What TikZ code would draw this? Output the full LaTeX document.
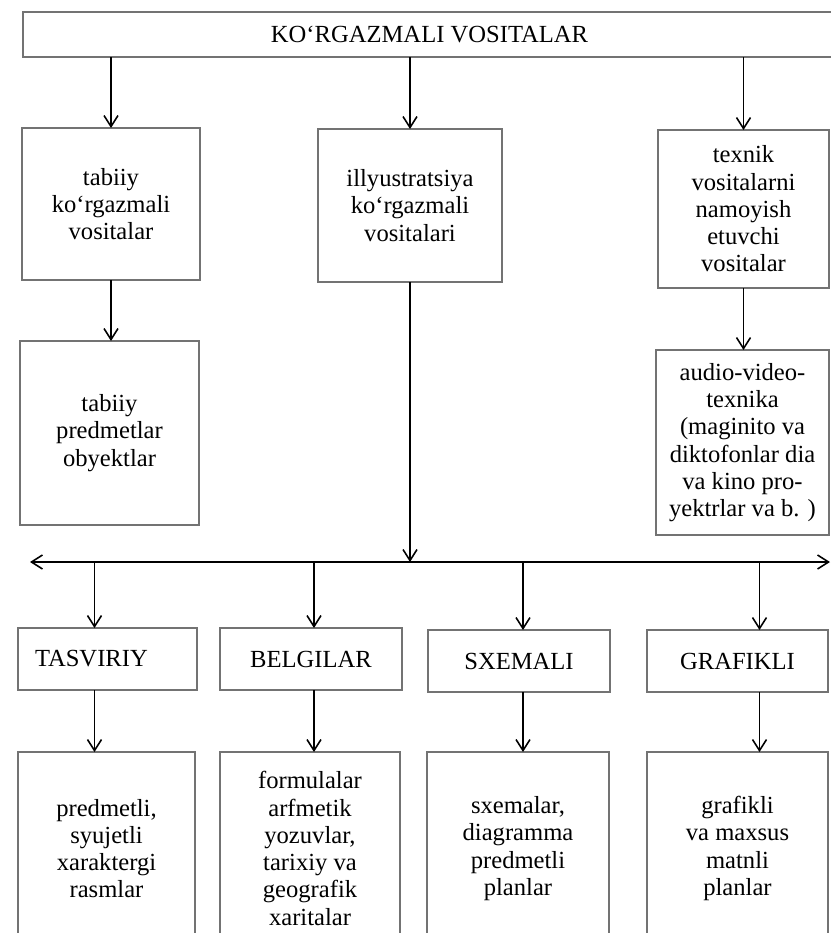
\documentclass[tikz,border=0pt]{standalone}
\usepackage{fontspec}
\setmainfont{Liberation Serif}
\usetikzlibrary{arrows.meta}

\begin{document}
\begin{tikzpicture}[x=0.02cm, y=-0.02cm,
    vbox/.style={draw=black!55, line width=0.7pt, inner sep=2pt, outer sep=0pt,
      align=center, font=\fontsize{14}{15.5}\selectfont},
    link/.style={->, line width=0.9pt},
    >={Straight Barb[length=2.2mm, width=2.8mm]}]
    \useasboundingbox (0,0) rectangle (831,933);
    % top
    \node[vbox, minimum width=813*0.02cm, minimum height=45*0.02cm] (top) at (429.5,34.5) {KO‘RGAZMALI VOSITALAR};
    % second level
    \node[vbox, minimum width=178*0.02cm, minimum height=152*0.02cm] (tab) at (111,204) {tabiiy\\ko‘rgazmali\\vositalar};
    \node[vbox, minimum width=184*0.02cm, minimum height=153*0.02cm] (ill) at (410,205.5) {illyustratsiya\\ko‘rgazmali\\vositalari};
    \node[vbox, minimum width=171*0.02cm, minimum height=158*0.02cm] (tex) at (743.5,209) {texnik\\vositalarni\\namoyish\\etuvchi\\vositalar};
    \node[vbox, minimum width=179*0.02cm, minimum height=184*0.02cm] (pred) at (109.5,433) {tabiiy\\predmetlar\\obyektlar};
    \node[vbox, minimum width=173*0.02cm, minimum height=185*0.02cm] (audio) at (742.5,442.5) {audio-video-\\texnika\\(maginito va\\diktofonlar dia\\va kino pro-\\yektrlar va b. )};
    \draw[link] (top.south -| tab.north) -- (tab.north);
    \draw[link] (top.south -| ill.north) -- (ill.north);
    \draw[link] (top.south -| tex.north) -- (tex.north);
    \draw[link] (tab.south) -- (tab.south |- pred.north);
    \draw[link] (tex.south) -- (tex.south |- audio.north);
    % bus line
    \coordinate (bl) at (30,562);
    \coordinate (br) at (830,562);
    \draw[link, <->] (bl) -- (br);
    \draw[link] (ill.south) -- (ill.south |- bl);
    % kinds
    \node[vbox, minimum width=179*0.02cm, minimum height=62*0.02cm, text width=145*0.02cm, align=left, inner xsep=17*0.02cm] (tas) at (107.5,659) {TASVIRIY};
    \node[vbox, minimum width=182*0.02cm, minimum height=62*0.02cm] (bel) at (311,659) {BELGILAR};
    \node[vbox, minimum width=182*0.02cm, minimum height=62*0.02cm] (sxe) at (519,661) {SXEMALI};
    \node[vbox, minimum width=181*0.02cm, minimum height=62*0.02cm] (gra) at (737.5,661) {GRAFIKLI};
    % examples
    \node[vbox, minimum width=177*0.02cm, minimum height=193*0.02cm] (rasm) at (106.5,848.5) {predmetli,\\syujetli\\xaraktergi\\rasmlar};
    \node[vbox, minimum width=180*0.02cm, minimum height=193*0.02cm] (form) at (310,848.5) {formulalar\\arfmetik\\yozuvlar,\\tarixiy va\\geografik\\xaritalar};
    \node[vbox, minimum width=182*0.02cm, minimum height=193*0.02cm] (sxm) at (518,848.5) {sxemalar,\\diagramma\\predmetli\\planlar};
    \node[vbox, minimum width=181*0.02cm, minimum height=193*0.02cm] (graf) at (737.5,848.5) {grafikli\\va maxsus\\matnli\\planlar};
    \coordinate (a1) at ([xshift=-13*0.02cm]tas.north);
    \coordinate (a2) at ([xshift=3*0.02cm]bel.north);
    \coordinate (a3) at ([xshift=4*0.02cm]sxe.north);
    \coordinate (a4) at ([xshift=22*0.02cm]gra.north);
    \foreach \a/\k/\e in {a1/tas/rasm, a2/bel/form, a3/sxe/sxm, a4/gra/graf} {
        \draw[link] (\a |- bl) -- (\a);
        \draw[link] (\a |- \k.south) -- (\a |- \e.north);
    }
\end{tikzpicture}
\end{document}
